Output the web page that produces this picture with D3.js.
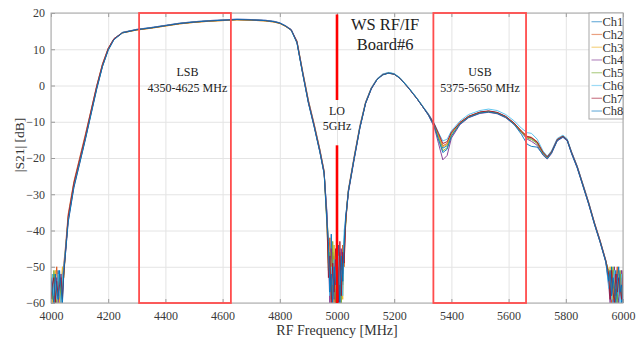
<!DOCTYPE html>
<html>
<head>
<meta charset="utf-8">
<script src="https://cdn.jsdelivr.net/npm/d3@7"></script>
<style>
  body { margin: 0; background: #fff; }
  svg text { font-family: "Liberation Serif", "Times New Roman", serif !important; }
  .grid line { stroke: #e4e4e4; }
  .grid path { display: none; }
  .axis path { display: none; }
  .axis line { stroke: #9a9a9a; }
  .axis text { fill: #3a3a3a; font-size: 12px; }
</style>
</head>
<body>
<div id="app"></div>
<script>
// frequency grid [MHz]
const freq = [
  4000,4005,4010,4015,4020,4025,4030,4035,4040,4045,
  4050,4060,4080,4100,4120,4140,4160,4180,4200,4220,4250,4300,4350,4400,4450,4500,4550,4600,4650,4700,4750,4780,4800,4820,4840,4860,4880,4900,4920,4940,4955,
  4965,4970,4975,4980,4985,4990,4995,5000,5005,5010,5015,5020,5025,5030,
  5035,5040,5060,5080,5100,5120,5140,5160,5180,5200,5220,5250,5280,5300,5320,5340,5355,5370,5385,5400,5430,5460,5500,5530,5560,5590,5620,5645,5665,5680,5700,5720,5735,5750,5770,5790,5805,5820,5840,5860,5880,5900,5920,5940,
  5950,5955,5960,5965,5970,5975,5980,5985,5990,5995,6000
];

// |S21| [dB] per channel
const ch1 = [
  -55,-58,-52,-60,-56,-51,-59,-54,-57,-50,
  -46,-37,-27.5,-21,-14.5,-7.5,-0.5,5.5,10,12.8,14.6,15.4,15.9,16.5,17.1,17.5,17.8,18.0,18.2,18.1,17.9,17.6,17.2,16.4,15.3,12,3.5,-4.5,-11,-18,-24,
  -36,-44,-52,-41,-58,-47,-60,-53,-44,-58,-49,-55,-42,-38,
  -33,-29,-20,-11.5,-4.8,-0.8,1.7,3.0,3.5,3.2,2.1,-0.6,-3.6,-5.8,-8,-10.8,-14,-17.3,-16.6,-13.3,-10.3,-8.6,-7.4,-7.1,-7.5,-8.6,-10.5,-12.8,-14.2,-14.6,-15.8,-18.6,-19.8,-18.4,-15,-14,-15,-18.5,-22.5,-27.5,-32.5,-38,-43,-48.5,
  -53,-58,-50,-60,-55,-51,-59,-56,-52,-60,-57
];
const ch2 = [
  -58,-53,-60,-55,-50,-57,-53,-60,-52,-49,
  -45,-35.5,-26.5,-20,-13.5,-6.8,0,6,10.3,12.9,14.5,15.3,15.8,16.4,17.0,17.4,17.7,17.9,18.1,18.0,17.8,17.5,17.1,16.3,15.2,12.3,4,-4,-10.5,-17.5,-23.5,
  -38,-49,-42,-57,-46,-60,-51,-45,-59,-48,-56,-44,-50,-37,
  -32.5,-28.5,-19.5,-11,-4.5,-0.6,1.8,3.1,3.5,3.2,2.0,-0.7,-3.7,-5.9,-8.1,-10.7,-13.6,-16.6,-16,-13,-10.2,-8.5,-7.4,-7.1,-7.5,-8.6,-10.4,-12.6,-14,-14.3,-15.5,-18.3,-19.5,-18.2,-14.8,-13.9,-15,-18.3,-22.3,-27.2,-32.2,-37.7,-42.7,-48.2,
  -52,-56,-60,-51,-58,-54,-50,-59,-55,-53,-60
];
const ch3 = [
  -52,-60,-56,-51,-58,-54,-60,-55,-50,-53,
  -46.5,-36.5,-27,-20.7,-14.2,-7.2,-0.3,5.7,10.1,12.8,14.5,15.3,15.8,16.4,17.0,17.4,17.7,17.9,18.1,18.0,17.8,17.5,17.1,16.3,15.3,12.1,3.7,-4.3,-10.8,-17.8,-23.8,
  -37,-42,-55,-48,-60,-44,-56,-49,-60,-46,-53,-59,-45,-39,
  -33,-29,-20,-11.4,-4.7,-0.7,1.7,3.0,3.4,3.1,2.0,-0.6,-3.6,-5.8,-8,-10.8,-13.8,-16.9,-16.3,-13.2,-10.3,-8.6,-7.4,-7.2,-7.6,-8.7,-10.6,-12.7,-14.2,-14.5,-15.7,-18.4,-19.7,-18.4,-15.1,-14.1,-15.1,-18.5,-22.5,-27.5,-32.6,-38.1,-43.1,-48.6,
  -54,-50,-57,-59,-52,-60,-55,-51,-58,-56,-52
];
const ch4 = [
  -60,-54,-57,-59,-53,-60,-56,-52,-58,-51,
  -47,-37.5,-28,-21.5,-14.8,-7.8,-0.8,5.3,9.8,12.7,14.6,15.5,16.0,16.6,17.2,17.6,17.9,18.1,18.3,18.2,18.0,17.7,17.3,16.5,15.4,11.8,3.3,-4.8,-11.3,-18.3,-24.3,
  -35,-47,-60,-45,-52,-59,-48,-57,-50,-60,-45,-52,-47,-38,
  -33.5,-29.5,-20.5,-11.8,-5,-1,1.6,3.0,3.5,3.2,2.1,-0.6,-3.6,-5.9,-8.3,-11.5,-16,-20.5,-19.3,-14.5,-10.8,-8.9,-7.7,-7.4,-7.8,-8.9,-10.8,-13,-14.8,-15.4,-16.5,-19.2,-20.3,-18.8,-15.3,-14.3,-15.3,-18.8,-22.8,-27.8,-32.8,-38.3,-43.3,-48.8,
  -55,-60,-53,-56,-50,-58,-52,-60,-54,-51,-59
];
const ch5 = [
  -54,-59,-51,-57,-60,-55,-52,-59,-54,-52,
  -46,-37,-27.6,-21.2,-14.6,-7.6,-0.6,5.4,9.9,12.8,14.6,15.4,15.9,16.5,17.1,17.5,17.8,18.0,18.2,18.1,17.9,17.6,17.2,16.4,15.3,11.9,3.4,-4.6,-11.1,-18.1,-24.1,
  -39,-51,-46,-59,-43,-55,-60,-47,-56,-52,-60,-48,-43,-39,
  -33,-29,-20,-11.5,-4.8,-0.8,1.7,3.0,3.5,3.2,2.1,-0.6,-3.6,-5.8,-8.1,-11,-14.6,-18,-17.2,-13.8,-10.5,-8.7,-7.5,-7.2,-7.6,-8.7,-10.6,-12.9,-14.5,-14.9,-16,-18.8,-20,-18.5,-15,-14,-15,-18.5,-22.5,-27.5,-32.5,-38,-43,-48.5,
  -51,-57,-55,-50,-59,-53,-60,-54,-51,-58,-55
];
const ch6 = [
  -57,-52,-58,-54,-59,-52,-57,-60,-53,-50,
  -45.5,-36.8,-27.3,-20.8,-14.3,-7.3,-0.3,5.6,10.1,12.9,14.7,15.5,16.0,16.6,17.2,17.6,17.9,18.1,18.3,18.2,18.0,17.7,17.3,16.5,15.5,12.2,3.8,-4.2,-10.7,-17.7,-23.7,
  -36,-45,-58,-50,-55,-48,-53,-60,-47,-55,-51,-58,-40,-37,
  -32.8,-28.8,-19.8,-11.3,-4.6,-0.6,1.9,3.2,3.6,3.3,2.2,-0.5,-3.5,-5.7,-7.8,-10.4,-13,-15.3,-14.8,-12.5,-9.8,-8,-6.9,-6.5,-6.9,-8,-9.8,-11.8,-13,-13.2,-14.8,-18,-19.5,-18,-14.6,-13.7,-14.7,-18.2,-22.2,-27.2,-32.2,-37.8,-42.8,-48.3,
  -56,-52,-59,-54,-51,-56,-53,-58,-60,-52,-54
];
const ch7 = [
  -59,-55,-53,-60,-54,-58,-55,-53,-59,-52,
  -46.5,-36.2,-26.9,-20.5,-14,-7,-0.1,5.8,10.2,12.9,14.6,15.4,15.9,16.5,17.1,17.5,17.8,18.0,18.2,18.1,17.9,17.6,17.2,16.4,15.4,12.1,3.6,-4.4,-10.9,-17.9,-23.9,
  -37,-53,-47,-60,-49,-57,-45,-52,-60,-43,-58,-46,-49,-38,
  -33,-29,-20,-11.5,-4.8,-0.8,1.7,3.0,3.4,3.1,2.0,-0.7,-3.7,-5.9,-8,-10.6,-13.2,-16,-15.5,-12.9,-10.2,-8.5,-7.3,-7,-7.4,-8.5,-10.4,-12.6,-14.1,-14.4,-15.6,-18.4,-19.7,-18.3,-14.9,-14,-15,-18.4,-22.4,-27.4,-32.4,-37.9,-42.9,-48.4,
  -52,-59,-51,-57,-60,-52,-57,-53,-56,-59,-51
];
const ch8 = [
  -53,-57,-60,-52,-57,-59,-51,-56,-60,-51,
  -47,-37.8,-28.2,-21.6,-15,-8,-1,5.2,9.7,12.6,14.5,15.4,15.9,16.5,17.1,17.5,17.8,18.0,18.2,18.1,17.9,17.6,17.2,16.4,15.2,11.7,3.2,-4.9,-11.4,-18.4,-24.4,
  -38,-43,-57,-52,-60,-50,-55,-46,-53,-60,-47,-54,-44,-36,
  -33.2,-29.2,-20.2,-11.7,-4.9,-0.9,1.6,2.9,3.4,3.1,2.0,-0.7,-3.7,-5.9,-8.2,-11.2,-15,-18.5,-17.6,-14,-10.6,-8.8,-7.6,-7.3,-7.7,-8.8,-10.8,-13.5,-16.2,-16.8,-17,-19,-20.2,-18.6,-15.2,-14.2,-15.2,-18.7,-22.7,-27.7,-32.7,-38.2,-43.2,-48.7,
  -54,-51,-58,-53,-56,-60,-54,-50,-57,-55,-60
];

const names  = ["Ch1","Ch2","Ch3","Ch4","Ch5","Ch6","Ch7","Ch8"];
const series = [ch1, ch2, ch3, ch4, ch5, ch6, ch7, ch8];
const colors = ["#0072BD","#D95319","#EDB120","#7E2F8E","#77AC30","#4DBEEE","#A2142F","#0072BD"];

const xTicks = d3.range(4000, 6001, 200);
const yTicks = d3.range(-60, 21, 10);

// sidebands [MHz]
const lsbBox = [4308, 4629];
const usbBox = [5337, 5661];
const loFreq = 5000;

const W = 641, H = 341;
const margin = { top: 13, right: 18, bottom: 38, left: 51 },
      width  = W - margin.left - margin.right,
      height = H - margin.top - margin.bottom;

const x = d3.scaleLinear().domain([4000, 6000]).range([0, width]);
const y = d3.scaleLinear().domain([-60, 20]).range([height, 0]);

const svg = d3.select("#app").append("svg")
  .attr("width", W)
  .attr("height", H)
  .style("background", "#fff");

const g = svg.append("g")
  .attr("transform", `translate(${margin.left},${margin.top})`);

/* grid */
g.append("g").attr("class", "grid")
  .attr("transform", `translate(0,${height})`)
  .call(d3.axisBottom(x).tickValues(xTicks).tickSize(-height).tickFormat(""));
g.append("g").attr("class", "grid")
  .call(d3.axisLeft(y).tickValues(yTicks).tickSize(-width).tickFormat(""));

/* curves */
g.append("clipPath").attr("id", "clip")
  .append("rect").attr("width", width).attr("height", height + 1);

const line = d3.line()
  .x((d, i) => x(freq[i]))
  .y(d => y(d));

g.append("g").attr("clip-path", "url(#clip)")
  .selectAll("path")
  .data(series)
  .enter().append("path")
    .attr("d", line)
    .attr("fill", "none")
    .attr("stroke", (d, i) => colors[i])
    .attr("stroke-width", 0.9);

/* axes */
g.append("g").attr("class", "axis")
  .attr("transform", `translate(0,${height})`)
  .call(d3.axisBottom(x).tickValues(xTicks).tickSize(-4).tickPadding(8).tickFormat(d3.format("d")));
g.append("g").attr("class", "axis")
  .call(d3.axisLeft(y).tickValues(yTicks).tickSize(-4).tickPadding(6));
g.append("g").attr("class", "axis")
  .call(d3.axisTop(x).tickValues(xTicks).tickSize(-4).tickFormat(""));
g.selectAll(".axis").attr("font-family", null);

g.append("rect")
  .attr("width", width).attr("height", height)
  .attr("fill", "none").attr("stroke", "#a8a8a8");

/* sideband boxes */
g.selectAll(".band")
  .data([lsbBox, usbBox])
  .enter().append("rect")
    .attr("class", "band")
    .attr("x", d => x(d[0]))
    .attr("width", d => x(d[1]) - x(d[0]))
    .attr("y", y(20))
    .attr("height", y(-60) - y(20))
    .attr("fill", "none")
    .attr("stroke", "#ff4d4d")
    .attr("stroke-width", 1.8);

/* LO marker */
[[19.6, -4], [-16.5, -60]].forEach(seg => {
  g.append("line")
    .attr("x1", x(loFreq)).attr("x2", x(loFreq))
    .attr("y1", y(seg[0])).attr("y2", y(seg[1]))
    .attr("stroke", "#ff0000")
    .attr("stroke-width", 2.6);
});

/* annotations */
const note = (f, v, s, size) => g.append("text")
  .attr("x", x(f)).attr("y", y(v))
  .attr("text-anchor", "middle")
  .attr("fill", "#222")
  .style("font-size", size + "px")
  .text(s);

note(5168, 15.2, "WS RF/IF", 16.5);
note(5168, 9.8, "Board#6", 16.5);
note(4477, 2.5, "LSB", 12);
note(4477, -1.7, "4350-4625 MHz", 12);
note(5500, 2.5, "USB", 12);
note(5500, -1.7, "5375-5650 MHz", 12);
note(loFreq, -8, "LO", 12);
note(loFreq, -12.2, "5GHz", 12);

/* axis titles */
svg.append("text")
  .attr("x", margin.left + width / 2).attr("y", 335)
  .attr("text-anchor", "middle")
  .attr("fill", "#333")
  .style("font-size", "14px")
  .text("RF Frequency [MHz]");
svg.append("text")
  .attr("transform", `translate(24,145) rotate(-90)`)
  .attr("text-anchor", "middle")
  .attr("fill", "#333")
  .style("font-size", "13.5px")
  .text("|S21| [dB]");

/* legend */
const leg = g.append("g")
  .attr("transform", `translate(${width - 34},0)`);
leg.append("rect")
  .attr("width", 34).attr("height", 106)
  .attr("fill", "#fff").attr("stroke", "#a8a8a8");
const item = leg.selectAll(".item")
  .data(names)
  .enter().append("g")
    .attr("transform", (d, i) => `translate(0,${8.7 + i * 12.76})`);
item.append("line")
  .attr("x1", 2.5).attr("x2", 13)
  .attr("stroke", (d, i) => colors[i])
  .attr("stroke-opacity", 0.55)
  .attr("stroke-width", 1.2);
item.append("text")
  .attr("x", 13.5).attr("dy", "0.35em")
  .attr("fill", "#333")
  .style("font-size", "12.5px")
  .text(d => d);
</script>
</body>
</html>
